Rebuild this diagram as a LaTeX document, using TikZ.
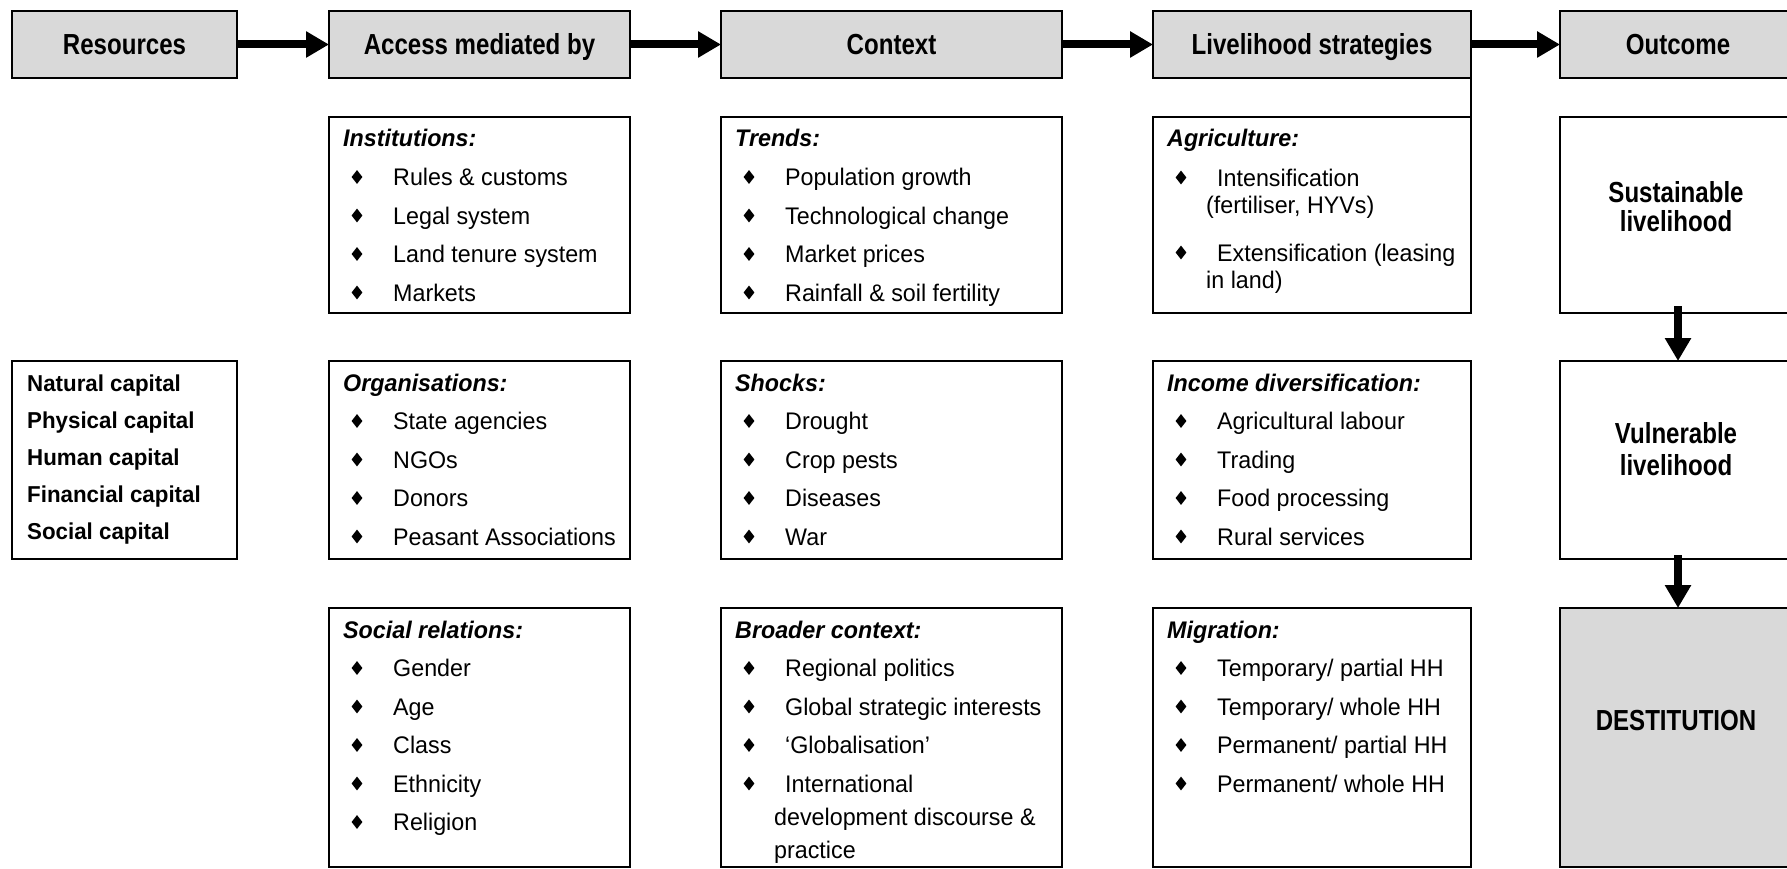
\documentclass[tikz,border=0pt]{standalone}
\usepackage{fontspec}
\setmainfont{Liberation Sans}[FakeStretch=0.97]
\newfontfamily\hdfont{Liberation Sans}[FakeStretch=0.83]
\usetikzlibrary{arrows.meta,shapes.geometric}
\definecolor{hdgray}{RGB}{217,217,217}

% bullet item: #1 name, #2 left edge of box, #3 baseline, #4 text
\newcommand\bitem[4]{%
  \node[blt] (#1b) at ({#2+28},{#3-8.5}) {};
  \node[itm] (#1) at ({#2+64},#3) {#4};}
% continuation line of a wrapped item
\newcommand\citem[4]{\node[itm] (#1) at ({#2+53},#3) {#4};}
% title of a list box
\newcommand\ltitle[4]{\node[ttl] (#1) at ({#2+14},{#3+30}) {#4};}

\begin{document}
\begin{tikzpicture}[x=1pt,y=-1pt,
  box/.style={draw, line width=2.7pt, inner sep=0pt, outer sep=0pt},
  hdr/.style={box, fill=hdgray, text height=21pt, text depth=0pt,
    font=\hdfont\fontsize{29}{32}\selectfont\bfseries},
  bigarrow/.style={line width=8pt, -{Triangle[length=23pt,width=25pt]}},
  itm/.style={anchor=base west, inner sep=0pt, font=\fontsize{24}{28}\selectfont},
  ttl/.style={itm, font=\fontsize{24}{28}\selectfont\bfseries\itshape},
  res/.style={itm, font=\fontsize{23}{27}\selectfont\bfseries},
  outtxt/.style={anchor=base, inner sep=0pt, font=\hdfont\fontsize{29}{32}\selectfont\bfseries},
  blt/.style={diamond, fill=black, inner sep=0pt, minimum width=11pt, minimum height=14pt}]
\useasboundingbox (0,0) rectangle (1787,869);

% ---- header row ----
\node[hdr, minimum width=225pt, minimum height=67pt] (res) at (124.5,44.5) {Resources};
\node[hdr, minimum width=301pt, minimum height=67pt] (acc) at (479.5,44.5) {Access mediated by};
\node[hdr, minimum width=341pt, minimum height=67pt] (ctx) at (891.5,44.5) {Context};
\node[hdr, minimum width=318pt, minimum height=67pt] (liv) at (1312,44.5) {Livelihood strategies};
\node[hdr, minimum width=236pt, minimum height=67pt] (out) at (1678,44.5) {Outcome};

% ---- boxes ----
\node[box, minimum width=225pt, minimum height=198pt] (cap) at (124.5,460) {};
\node[box, minimum width=301pt, minimum height=196pt] (inst) at (479.5,215) {};
\node[box, minimum width=301pt, minimum height=198pt] (org) at (479.5,460) {};
\node[box, minimum width=301pt, minimum height=259pt] (soc) at (479.5,737.5) {};
\node[box, minimum width=341pt, minimum height=196pt] (trd) at (891.5,215) {};
\node[box, minimum width=341pt, minimum height=198pt] (shk) at (891.5,460) {};
\node[box, minimum width=341pt, minimum height=259pt] (brd) at (891.5,737.5) {};
\node[box, minimum width=318pt, minimum height=196pt] (agri) at (1312,215) {};
\node[box, minimum width=318pt, minimum height=198pt] (inc) at (1312,460) {};
\node[box, minimum width=318pt, minimum height=259pt] (mig) at (1312,737.5) {};
\node[box, minimum width=236pt, minimum height=196pt] (sust) at (1678,215) {};
\node[box, minimum width=236pt, minimum height=198pt] (vuln) at (1678,460) {};
\node[box, fill=hdgray, minimum width=236pt, minimum height=259pt] (dest) at (1678,737.5) {};

% ---- resources ----
\node[res] (cap1) at (27,391) {Natural capital};
\node[res] (cap2) at (27,428) {Physical capital};
\node[res] (cap3) at (27,465) {Human capital};
\node[res] (cap4) at (27,502) {Financial capital};
\node[res] (cap5) at (27,539) {Social capital};

% ---- access mediated by ----
\ltitle{inst-t}{329}{117}{Institutions:}
\bitem{inst1}{329}{185.5}{Rules \& customs}
\bitem{inst2}{329}{224}{Legal system}
\bitem{inst3}{329}{262.5}{Land tenure system}
\bitem{inst4}{329}{301}{Markets}

\ltitle{org-t}{329}{361}{Organisations:}
\bitem{org1}{329}{429.5}{State agencies}
\bitem{org2}{329}{468}{NGOs}
\bitem{org3}{329}{506.5}{Donors}
\bitem{org4}{329}{545}{Peasant Associations}

\ltitle{soc-t}{329}{608}{Social relations:}
\bitem{soc1}{329}{676.5}{Gender}
\bitem{soc2}{329}{715}{Age}
\bitem{soc3}{329}{753.5}{Class}
\bitem{soc4}{329}{792}{Ethnicity}
\bitem{soc5}{329}{830.5}{Religion}

% ---- context ----
\ltitle{trd-t}{721}{117}{Trends:}
\bitem{trd1}{721}{185.5}{Population growth}
\bitem{trd2}{721}{224}{Technological change}
\bitem{trd3}{721}{262.5}{Market prices}
\bitem{trd4}{721}{301}{Rainfall \& soil fertility}

\ltitle{shk-t}{721}{361}{Shocks:}
\bitem{shk1}{721}{429.5}{Drought}
\bitem{shk2}{721}{468}{Crop pests}
\bitem{shk3}{721}{506.5}{Diseases}
\bitem{shk4}{721}{545}{War}

\ltitle{brd-t}{721}{608}{Broader context:}
\bitem{brd1}{721}{676.5}{Regional politics}
\bitem{brd2}{721}{715}{Global strategic interests}
\bitem{brd3}{721}{753.5}{‘Globalisation’}
\bitem{brd4}{721}{792}{International}
\citem{brd4a}{721}{825}{development discourse \&}
\citem{brd4b}{721}{858}{practice}

% ---- livelihood strategies ----
\ltitle{agri-t}{1153}{117}{Agriculture:}
\bitem{agri1}{1153}{186}{Intensification}
\citem{agri1a}{1153}{213}{(fertiliser, HYVs)}
\bitem{agri2}{1153}{261}{Extensification (leasing}
\citem{agri2a}{1153}{288}{in land)}

\ltitle{inc-t}{1153}{361}{Income diversification:}
\bitem{inc1}{1153}{429.5}{Agricultural labour}
\bitem{inc2}{1153}{468}{Trading}
\bitem{inc3}{1153}{506.5}{Food processing}
\bitem{inc4}{1153}{545}{Rural services}

\ltitle{mig-t}{1153}{608}{Migration:}
\bitem{mig1}{1153}{676.5}{Temporary/ partial HH}
\bitem{mig2}{1153}{715}{Temporary/ whole HH}
\bitem{mig3}{1153}{753.5}{Permanent/ partial HH}
\bitem{mig4}{1153}{792}{Permanent/ whole HH}

% ---- outcomes ----
\node[outtxt] (sust1) at (1676,202) {Sustainable};
\node[outtxt] (sust2) at (1676,231) {livelihood};
\node[outtxt] (vuln1) at (1676,443) {Vulnerable};
\node[outtxt] (vuln2) at (1676,475) {livelihood};
\node[outtxt] (dest1) at (1676,730) {DESTITUTION};

% ---- connectors ----
\draw[bigarrow] (res.east) -- (acc.west);
\draw[bigarrow] (acc.east) -- (ctx.west);
\draw[bigarrow] (ctx.east) -- (liv.west);
\draw[bigarrow] (liv.east) -- (out.west);
\draw[line width=2.7pt] (liv.south east) -- (agri.north east);
\draw[bigarrow] ([yshift=7pt]sust.south) -- (vuln.north);
\draw[bigarrow] ([yshift=4pt]vuln.south) -- (dest.north);
\end{tikzpicture}
\end{document}
